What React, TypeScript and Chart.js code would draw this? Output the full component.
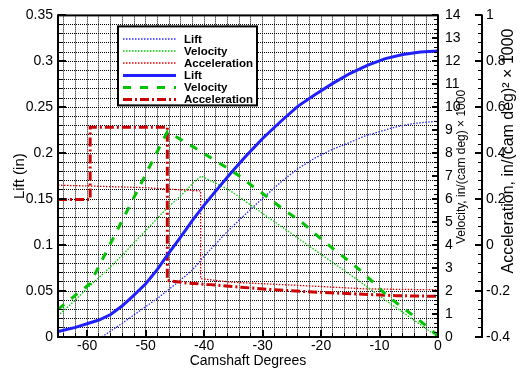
import React, { useEffect, useRef } from 'react';
import { Chart, registerables } from 'chart.js';

Chart.register(...registerables);

const FONT = '"Liberation Sans", Arial, sans-serif';

// ---- axis tick labels ----
const degTickValues = [-60, -50, -40, -30, -20, -10, 0];
const degTickLabels = ['-60', '-50', '-40', '-30', '-20', '-10', '0'];
const liftTickValues = [0, 0.05, 0.1, 0.15, 0.2, 0.25, 0.3, 0.35];
const liftTickLabels = ['0', '0.05', '0.1', '0.15', '0.2', '0.25', '0.3', '0.35'];
const velTickValues = [0, 1, 2, 3, 4, 5, 6, 7, 8, 9, 10, 11, 12, 13, 14];
const velTickLabels = ['0', '1', '2', '3', '4', '5', '6', '7', '8', '9', '10', '11', '12', '13', '14'];
const accTickValues = [-0.4, -0.2, 0, 0.2, 0.4, 0.6, 0.8, 1];
const accTickLabels = ['-0.4', '-0.2', '0', '0.2', '0.4', '0.6', '0.8', '1'];

// ---- series (thin curves) ----
const liftThinDeg = [-57.5, -56, -54, -51, -48, -45, -42, -39.9, -36, -33.9, -30, -27, -24, -21, -18.5, -15, -12.8, -10, -7, -4, 0];
const liftThinVal = [0, 0.0065, 0.015, 0.0285, 0.042, 0.057, 0.073, 0.0886, 0.115, 0.128, 0.151, 0.168, 0.183, 0.195, 0.203, 0.212, 0.218, 0.2235, 0.229, 0.2325, 0.235];

const velThinDeg = [-65, -62, -59.8, -57, -54, -52, -49, -46.7, -43.8, -41.6, -40.5, -38.1, -35.6, -30, -25, -18.5, -14, -9.9, -5, 0];
const velThinVal = [0.92, 1.62, 2.17, 2.82, 3.56, 4.1, 4.9, 5.52, 6.2, 6.78, 7.0, 6.71, 6.38, 5.38, 4.49, 3.33, 2.53, 1.77, 0.89, 0];

const accThinDeg = [-65, -58, -50, -45, -40.6, -40.6, -35.6, -30, -24.2, -18, -12.8, -6, 0];
const accThinVal = [0.261, 0.256, 0.25, 0.242, 0.236, -0.146, -0.161, -0.168, -0.175, -0.183, -0.19, -0.193, -0.194];

// ---- series (thick curves) ----
const liftThickDeg = [-65, -62, -59.5, -58, -56, -54, -52, -50, -48, -46.3, -44, -42, -40, -38, -35.5, -33, -30, -27, -24, -21, -18, -15, -12, -9, -6, -3, 0];
const liftThickVal = [0.006, 0.0105, 0.0155, 0.0185, 0.0245, 0.034, 0.0455, 0.058, 0.0735, 0.089, 0.109, 0.127, 0.1435, 0.159, 0.178, 0.196, 0.216, 0.234, 0.251, 0.264, 0.276, 0.287, 0.296, 0.303, 0.3075, 0.3102, 0.3112];

const velThickDeg = [-65, -62, -59.5, -56, -52, -48.5, -46.3, -44, -42, -40, -36, -33.9, -31.6, -29, -26.5, -23.6, -21.3, -18.8, -16.2, -13.6, -11.1, -8.8, -6.2, -3.6, -0.8, 0];
const velThickVal = [1.2, 1.82, 2.33, 4.08, 6.08, 7.83, 8.93, 8.6, 8.3, 7.98, 7.35, 7.0, 6.54, 6.06, 5.56, 5.06, 4.55, 4.02, 3.5, 2.97, 2.39, 1.82, 1.31, 0.81, 0.23, 0.05];

const accThickDeg = [-65, -59.5, -59.5, -46.3, -46.3, -43, -39, -33.9, -28.2, -21.3, -12.8, -7.1, 0];
const accThickVal = [0.199, 0.199, 0.513, 0.513, -0.154, -0.165, -0.172, -0.183, -0.194, -0.204, -0.214, -0.22, -0.223];

const legendLabels = ['Lift', 'Velocity', 'Acceleration', 'Lift', 'Velocity', 'Acceleration'];

const pts = (xs: number[], ys: number[]) => xs.map((x, i) => ({ x, y: ys[i] }));

const crisp = (v: number) => Math.round(v - 0.5) + 0.5;

const decor = {
  id: 'decor',
  beforeDatasetsDraw(chart: any) {
    const { ctx, chartArea: a, scales } = chart;
    const xs = scales.x;
    const ys = scales.y;
    ctx.save();
    ctx.beginPath();
    ctx.rect(a.left, a.top, a.right - a.left, a.bottom - a.top);
    ctx.clip();
    ctx.strokeStyle = '#000';
    ctx.lineWidth = 1;
    ctx.setLineDash([1, 1]);
    ctx.beginPath();
    for (let k = -32; k <= -1; k++) {
      const px = crisp(xs.getPixelForValue(k * 2));
      ctx.moveTo(px, a.top);
      ctx.lineTo(px, a.bottom);
    }
    for (let k = 1; k <= 34; k++) {
      const py = crisp(ys.getPixelForValue(k / 100));
      ctx.moveTo(a.left, py);
      ctx.lineTo(a.right, py);
    }
    ctx.stroke();
    ctx.restore();
  },
  afterDatasetsDraw(chart: any) {
    const { ctx, chartArea: a, scales } = chart;
    const xs = scales.x;
    const ys = scales.y;
    const y1 = scales.y1;
    const y2 = scales.y2;
    ctx.save();
    ctx.strokeStyle = '#000';
    ctx.setLineDash([]);
    const seg = (x0: number, yA: number, x1: number, yB: number, w: number) => {
      ctx.lineWidth = w;
      ctx.beginPath();
      ctx.moveTo(x0, yA);
      ctx.lineTo(x1, yB);
      ctx.stroke();
    };
    // left ticks (lift)
    for (let k = 0; k <= 35; k++) {
      const major = k % 5 === 0;
      const p = ys.getPixelForValue(k / 100);
      if (major) seg(a.left, Math.round(p), a.left + 8, Math.round(p), 2);
      else seg(a.left, crisp(p), a.left + 4, crisp(p), 1);
    }
    // bottom ticks (deg)
    for (let k = -32; k <= -1; k++) {
      const d = k * 2;
      const major = d % 10 === 0;
      const p = xs.getPixelForValue(d);
      if (major) seg(Math.round(p), a.bottom, Math.round(p), a.bottom - 7, 2);
      else seg(crisp(p), a.bottom, crisp(p), a.bottom - 4, 1);
    }
    // right ticks (velocity)
    for (let k = 0; k <= 70; k++) {
      const major = k % 5 === 0;
      const p = y1.getPixelForValue(k / 5);
      if (major) seg(a.right, Math.round(p), a.right - 6, Math.round(p), 2);
      else seg(a.right, crisp(p), a.right - 4, crisp(p), 1);
    }
    // frame
    ctx.lineWidth = 2;
    ctx.strokeRect(a.left, a.top, a.right - a.left, a.bottom - a.top);
    // acceleration axis
    const ax = Math.round(y2.left);
    seg(ax, a.top - 1, ax, a.bottom + 1, 2);
    for (let k = 0; k <= 35; k++) {
      const major = k % 5 === 0;
      const p = y2.getPixelForValue(-0.4 + k * 0.04);
      if (major) seg(ax, Math.round(p), ax - 7, Math.round(p), 2);
      else seg(ax, crisp(p), ax - 4, crisp(p), 1);
    }

    // legend
    const bx = a.left + 60;
    const by = a.top + 11;
    const bw = 139;
    const bh = 79;
    ctx.fillStyle = '#fff';
    ctx.fillRect(bx, by, bw, bh);
    ctx.lineWidth = 2;
    ctx.strokeStyle = '#000';
    ctx.strokeRect(bx, by, bw, bh);
    ctx.font = `bold 11.5px ${FONT}`;
    ctx.textAlign = 'left';
    ctx.textBaseline = 'middle';
    chart.data.datasets.forEach((ds: any, i: number) => {
      const ry = Math.round(by + 13 + i * 11.9) + (ds.borderWidth % 2 === 1 ? 0.5 : 0);
      ctx.save();
      ctx.strokeStyle = ds.borderColor;
      ctx.lineWidth = ds.borderWidth;
      ctx.setLineDash(ds.borderDash || []);
      ctx.beginPath();
      ctx.moveTo(bx + 5, ry);
      ctx.lineTo(bx + 58, ry);
      ctx.stroke();
      ctx.restore();
      ctx.fillStyle = '#000';
      ctx.fillText(legendLabels[i], bx + 66, Math.round(by + 13 + i * 11.9) + 1);
    });

    // right-hand axis titles (reading bottom to top)
    const vtitle = (text: string, cx: number, cy: number, size: number) => {
      ctx.save();
      ctx.translate(cx, cy);
      ctx.rotate(-Math.PI / 2);
      ctx.font = `${size}px ${FONT}`;
      ctx.fillStyle = '#000';
      ctx.textAlign = 'center';
      ctx.textBaseline = 'middle';
      ctx.fillText(text, 0, 0);
      ctx.restore();
    };
    vtitle('Velocity, in/(cam deg) \u00d7 1000', 462, 167, 12);
    vtitle('Acceleration, in/(cam deg)\u00b2 \u00d7 1000', 509, 151, 16);
    ctx.restore();
  },
};

export default function App() {
  const ref = useRef<HTMLCanvasElement>(null);
  useEffect(() => {
    document.body.style.margin = '0';
    const canvas = ref.current;
    if (!canvas) return;
    const thin = { borderWidth: 1.3, borderDash: [1.5, 1.5], pointRadius: 0, fill: false, tension: 0, order: 2 };
    const thick = { borderWidth: 3, pointRadius: 0, fill: false, tension: 0, order: 1 };
    const chart = new Chart(canvas, {
      type: 'line',
      data: {
        datasets: [
          { ...thin, label: legendLabels[0], data: pts(liftThinDeg, liftThinVal), yAxisID: 'y', borderColor: '#2a2aff' },
          { ...thin, label: legendLabels[1], data: pts(velThinDeg, velThinVal), yAxisID: 'y1', borderColor: '#00cc00' },
          { ...thin, label: legendLabels[2], data: pts(accThinDeg, accThinVal), yAxisID: 'y2', borderColor: '#dd0000' },
          { ...thick, label: legendLabels[3], data: pts(liftThickDeg, liftThickVal), yAxisID: 'y', borderColor: '#2020ff' },
          { ...thick, label: legendLabels[4], data: pts(velThickDeg, velThickVal), yAxisID: 'y1', borderColor: '#00c400', borderDash: [8, 9] },
          { ...thick, label: legendLabels[5], data: pts(accThickDeg, accThickVal), yAxisID: 'y2', borderColor: '#cc0000', borderDash: [9, 3, 2, 3] },
        ] as any,
      },
      options: {
        responsive: false,
        maintainAspectRatio: false,
        devicePixelRatio: 1,
        animation: false,
        events: [],
        layout: { padding: { top: 13, left: 0, right: 0, bottom: 0 } },
        plugins: { legend: { display: false }, tooltip: { enabled: false }, title: { display: false } },
        scales: {
          x: {
            type: 'linear',
            position: 'bottom',
            min: -65,
            max: 0,
            afterBuildTicks: (s: any) => { s.ticks = degTickValues.map((v) => ({ value: v })); },
            afterFit: (s: any) => { s.height = 36; },
            grid: { display: false, drawTicks: false },
            border: { display: false },
            ticks: {
              autoSkip: false, maxRotation: 0, minRotation: 0, padding: 1, color: '#000',
              font: { family: FONT, size: 14 },
              callback: (_v: any, i: number) => degTickLabels[i],
            },
            title: { display: true, text: 'Camshaft Degrees', color: '#000', font: { family: FONT, size: 14 }, padding: { top: 0, bottom: 3 } },
          },
          y: {
            type: 'linear',
            position: 'left',
            min: 0,
            max: 0.35,
            afterBuildTicks: (s: any) => { s.ticks = liftTickValues.map((v) => ({ value: v })); },
            afterFit: (s: any) => { s.width = 58; },
            grid: { display: false, drawTicks: false },
            border: { display: false },
            ticks: {
              autoSkip: false, padding: 5, color: '#000',
              font: { family: FONT, size: 14 },
              callback: (_v: any, i: number) => liftTickLabels[i],
            },
            title: { display: true, text: 'Lift (in)', color: '#000', font: { family: FONT, size: 15 }, padding: { top: 10.5, bottom: 0 } },
          },
          y1: {
            type: 'linear',
            position: 'right',
            min: 0,
            max: 14,
            weight: 0,
            afterBuildTicks: (s: any) => { s.ticks = velTickValues.map((v) => ({ value: v })); },
            afterFit: (s: any) => { s.width = 44; },
            grid: { display: false, drawTicks: false },
            border: { display: false },
            ticks: {
              autoSkip: false, padding: 7, color: '#000',
              font: { family: FONT, size: 14 },
              callback: (_v: any, i: number) => velTickLabels[i],
            },
          },
          y2: {
            type: 'linear',
            position: 'right',
            min: -0.4,
            max: 1,
            weight: 1,
            afterBuildTicks: (s: any) => { s.ticks = accTickValues.map((v) => ({ value: v })); },
            afterFit: (s: any) => { s.width = 46; },
            grid: { display: false, drawTicks: false },
            border: { display: false },
            ticks: {
              autoSkip: false, padding: 4, color: '#000',
              font: { family: FONT, size: 14 },
              callback: (_v: any, i: number) => accTickLabels[i],
            },
          },
        },
      } as any,
      plugins: [decor],
    });
    return () => chart.destroy();
  }, []);
  return (
    <div style={{ width: 528, height: 373 }}>
      <canvas ref={ref} width={528} height={373} style={{ display: 'block', width: 528, height: 373 }} />
    </div>
  );
}
